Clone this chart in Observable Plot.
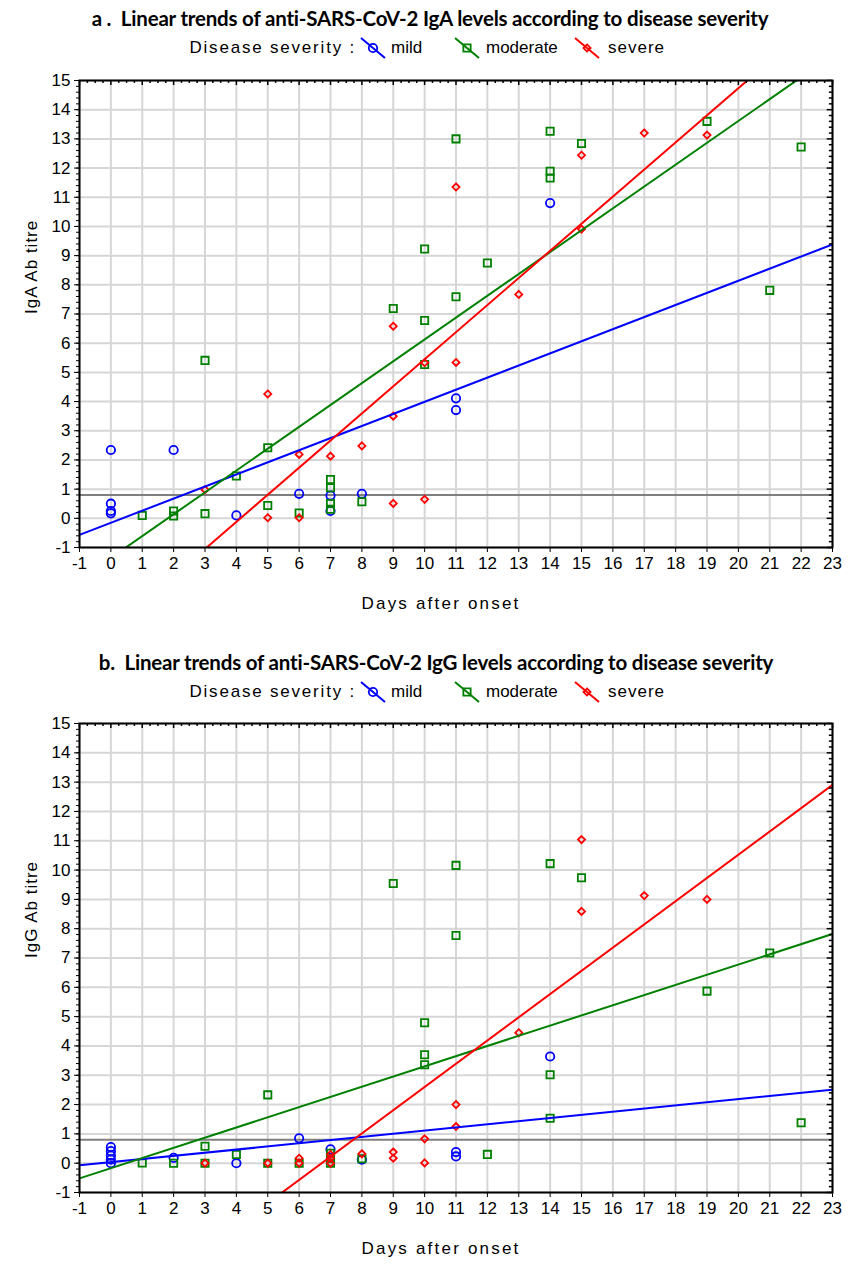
<!DOCTYPE html>
<html><head><meta charset="utf-8">
<script src="https://cdn.jsdelivr.net/npm/d3@7"></script>
<script src="https://cdn.jsdelivr.net/npm/@observablehq/plot@0.6"></script>
<style>
body{margin:0;background:#fff;}
#wrap{position:relative;width:854px;height:1267px;overflow:hidden;font-family:"Liberation Sans",Arial,sans-serif;color:#000;}
.title{position:absolute;left:0;text-align:center;font-family:Lato,sans-serif;font-weight:700;font-size:20.5px;white-space:pre;line-height:22px;letter-spacing:-0.2px;}
.leg{position:absolute;font-size:17px;line-height:18px;white-space:pre;}
.sw{position:absolute;}
.plot{position:absolute;left:0;}
</style></head>
<body>
<div id="wrap"></div>
<script>
// ---------- data ----------
const xTicks = [-1,0,1,2,3,4,5,6,7,8,9,10,11,12,13,14,15,16,17,18,19,20,21,22,23];
const yTicks = [-1,0,1,2,3,4,5,6,7,8,9,10,11,12,13,14,15];
const cutoff = 0.8;
const groups = ["mild","moderate","severe"];
const groupColors = ["#0000ff","#008000","#ff0000"];

// panel a: IgA
const igaMildDays  = [0,0,0,0,2,4,6,7,7,8,11,11,14];
const igaMildTitre = [2.34,0.5,0.25,0.17,2.34,0.1,0.84,0.78,0.25,0.84,4.11,3.71,10.8];
const igaModDays   = [1,2,2,3,3,4,5,5,6,7,7,7,7,8,9,10,10,10,11,11,12,14,14,14,15,19,21,22];
const igaModTitre  = [0.1,0.25,0.08,5.41,0.16,1.45,2.42,0.44,0.18,1.33,1.05,0.51,0.31,0.57,7.19,9.23,6.78,5.27,13.0,7.59,8.75,13.26,11.89,11.66,12.84,13.6,7.81,12.72];
const igaSevDays   = [3,5,5,6,6,7,8,9,9,9,10,10,11,11,13,15,15,17,19];
const igaSevTitre  = [0.98,4.26,0.02,2.19,0.02,2.13,2.48,6.58,3.5,0.51,5.33,0.65,11.35,5.34,7.67,12.44,9.91,13.2,13.13];

// panel b: IgG
const iggMildDays  = [0,0,0,0,0,2,4,6,7,8,11,11,14];
const iggMildTitre = [0.55,0.41,0.26,0.12,0.0,0.18,0.0,0.85,0.47,0.12,0.38,0.23,3.64];
const iggModDays   = [1,2,3,3,4,5,5,6,7,7,7,8,9,10,10,10,11,11,12,14,14,14,15,19,21,22];
const iggModTitre  = [0.01,0.0,0.58,0.0,0.3,2.33,0.0,0.0,0.34,0.15,0.0,0.15,9.54,4.79,3.7,3.36,10.16,7.77,0.3,10.22,3.02,1.53,9.74,5.87,7.17,1.38];
const iggSevDays   = [3,5,6,6,7,7,7,8,9,9,10,10,11,11,13,15,15,17,19];
const iggSevTitre  = [0.0,0.0,0.17,0.0,0.3,0.17,0.0,0.32,0.38,0.17,0.83,0.01,2.0,1.25,4.45,11.04,8.59,9.13,9.0];

const xLabel = "Days after onset";
const legendTitle = "Disease severity :";

// ---------- drawing ----------
const symbols = [d3.symbolCircle, d3.symbolSquare, d3.symbolDiamond2];
const radii = [4.2, 4.1, 3.2];
const minorY = d3.range(-5, 76).map(i => i / 5);
const minorX = d3.range(-4, 93).map(i => i / 4);
const xDom = d3.extent(xTicks), yDom = d3.extent(yTicks);

function fit(pts) {
  const mx = d3.mean(pts, p => p.x), my = d3.mean(pts, p => p.y);
  const b = d3.sum(pts, p => (p.x - mx) * (p.y - my)) / d3.sum(pts, p => (p.x - mx) ** 2);
  const a = my - b * mx;
  return xDom.map(x => ({x, y: a + b * x}));
}

function panel(series, yLabel, height, mt, mb) {
  const sets = series.map(s => s[0].map((d, j) => ({x: d, y: s[1][j]})));
  const marks = [
    Plot.gridX(xTicks, {stroke: "#d6d6d6", strokeOpacity: 1, strokeWidth: 2}),
    Plot.gridY(yTicks, {stroke: "#d6d6d6", strokeOpacity: 1, strokeWidth: 2}),
    Plot.ruleY([cutoff], {stroke: "#7f7f7f", strokeWidth: 2})
  ];
  sets.forEach((pts, i) => marks.push(Plot.dot(pts, {x: "x", y: "y", symbol: symbols[i], r: radii[i], stroke: groupColors[i], strokeWidth: 1.8})));
  sets.forEach((pts, i) => marks.push(Plot.line(fit(pts), {x: "x", y: "y", stroke: groupColors[i], strokeWidth: 2, clip: true})));
  marks.push(
    Plot.axisY(minorY, {anchor: "left", tickSize: 3, tickFormat: () => "", label: null}),
    Plot.axisY(yTicks, {anchor: "left", tickSize: 5, tickPadding: 4, label: null, tickFormat: d => String(d), fontSize: 17}),
    Plot.axisX(xTicks, {anchor: "bottom", tickSize: 5, tickPadding: 4, label: null, tickFormat: d => String(d), fontSize: 17}),
    Plot.ruleX(minorX, {x: d => d, y1: yDom[1], y2: d => yDom[1] - (Number.isInteger(d) ? 0.17 : 0.1), stroke: "#000", strokeWidth: 1.5}),
    Plot.ruleY(minorY, {y: d => d, x1: xDom[1], x2: d => xDom[1] - (Number.isInteger(d) ? 0.17 : 0.1), stroke: "#000", strokeWidth: 1.5}),
    Plot.frame({stroke: "#000", strokeWidth: 2}),
    Plot.text([yLabel], {frameAnchor: "left", dx: -48, rotate: -90, text: d => d, fontSize: 17}),
    Plot.text([xLabel], {frameAnchor: "bottom", dy: 61, dx: -15, text: d => d, fontSize: 17})
  );
  return Plot.plot({
    width: 854, height, marginLeft: 79, marginRight: 22, marginTop: mt, marginBottom: mb,
    x: {domain: xDom, label: null}, y: {domain: yDom, label: null},
    style: {fontFamily: "'Liberation Sans', Arial, sans-serif", fontSize: "17px", color: "#000", background: "#fff"},
    marks
  });
}

const wrap = document.getElementById("wrap");
function addTitle(text, top, center) {
  const d = document.createElement("div");
  d.className = "title"; d.textContent = text;
  d.style.top = top + "px"; d.style.left = (center - 427) + "px"; d.style.width = "854px";
  wrap.appendChild(d);
}
function addLegend(top) {
  const t = document.createElement("div");
  t.className = "leg"; t.textContent = legendTitle;
  t.style.top = top + "px"; t.style.right = (854 - 356) + "px"; t.style.letterSpacing = "1.8px";
  wrap.appendChild(t);
  const swX = [359, 453, 573], txX = [391, 486, 608];
  groups.forEach((g, i) => {
    const svg = d3.create("svg").attr("class", "sw").attr("width", 28).attr("height", 24)
      .style("left", swX[i] + "px").style("top", (top - 3) + "px");
    svg.append("line").attr("x1", 2).attr("y1", 2).attr("x2", 26).attr("y2", 22)
      .attr("stroke", groupColors[i]).attr("stroke-width", 2);
    svg.append("path").attr("d", d3.symbol(symbols[i], Math.PI * radii[i] ** 2)())
      .attr("transform", "translate(14,12)").attr("fill", "none")
      .attr("stroke", groupColors[i]).attr("stroke-width", 1.8);
    wrap.appendChild(svg.node());
    const l = document.createElement("div");
    l.className = "leg"; l.textContent = g;
    l.style.top = top + "px"; l.style.left = txX[i] + "px";
    if (g === "severe") l.style.letterSpacing = "1px";
    wrap.appendChild(l);
  });
}
function addPlot(svg, top) {
  svg.classList.add("plot");
  svg.style.position = "absolute"; svg.style.top = top + "px"; svg.style.left = "0px";
  const sel = d3.select(svg).selectAll("text");
  sel.filter(function() { return this.textContent === xLabel; }).attr("letter-spacing", "2.2px");
  sel.filter(function() { return /Ab titre/.test(this.textContent); }).attr("letter-spacing", "1px");
  wrap.appendChild(svg);
}

addTitle("a .  Linear trends of anti-SARS-CoV-2 IgA levels according to disease severity", 7, 430);
addLegend(39);
addPlot(panel([[igaMildDays, igaMildTitre], [igaModDays, igaModTitre], [igaSevDays, igaSevTitre]], "IgA Ab titre", 560, 15, 78), 65);

addTitle("b.  Linear trends of anti-SARS-CoV-2 IgG levels according to disease severity", 651, 436);
addLegend(683);
addPlot(panel([[iggMildDays, iggMildTitre], [iggModDays, iggModTitre], [iggSevDays, iggSevTitre]], "IgG Ab titre", 562, 18, 75), 705);
</script>
</body></html>
